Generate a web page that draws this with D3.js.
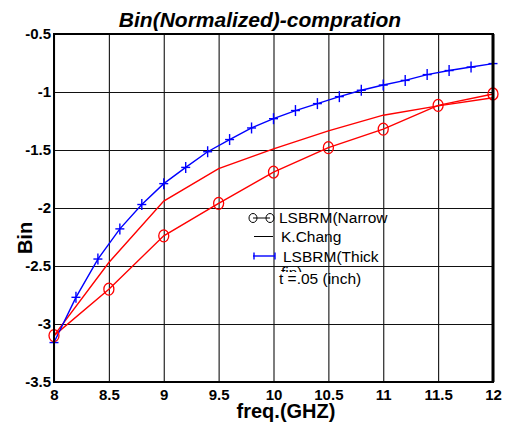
<!DOCTYPE html>
<html>
<head>
<meta charset="utf-8">
<script src="https://cdn.jsdelivr.net/npm/d3@7"></script>
<style>
  html, body { margin: 0; padding: 0; background: #fff; }
  svg { display: block; }
  text { font-family: "Liberation Sans", Arial, sans-serif; }
</style>
</head>
<body>
<script>
// ---- data ----
const freqNarrow = [8, 8.5, 9, 9.5, 10, 10.5, 11, 11.5, 12];
const binNarrow  = [-3.10, -2.70, -2.24, -1.96, -1.69, -1.48, -1.32, -1.115, -1.017];
const binChang   = [-3.10, -2.47, -1.94, -1.66, -1.49, -1.335, -1.20, -1.12, -1.05];
const freqThick  = [8, 8.2, 8.4, 8.6, 8.8, 9, 9.2, 9.4, 9.6, 9.8, 10, 10.2, 10.4, 10.6, 10.8, 11, 11.2, 11.4, 11.6, 11.8, 12];
const binThick   = [-3.16, -2.77, -2.44, -2.18, -1.97, -1.79, -1.65, -1.515, -1.41, -1.31, -1.23, -1.16, -1.10, -1.04, -0.985, -0.94, -0.90, -0.85, -0.815, -0.785, -0.755];
const xTicks = [8, 8.5, 9, 9.5, 10, 10.5, 11, 11.5, 12];
const yTicks = [-3.5, -3, -2.5, -2, -1.5, -1, -0.5];
const legendLabels = ["LSBRM(Narrow", "K.Chang", "LSBRM(Thick", "t =.05 (inch)"];
const legendWrap = "fin)";
const titleText = "Bin(Normalized)-compration";
const xLabel = "freq.(GHZ)";
const yLabel = "Bin";

// ---- layout ----
const W = 508, H = 426;
const L = 54, R = 493, T = 34, B = 382;
const svg = d3.select("body").append("svg").attr("width", W).attr("height", H);

const x = d3.scaleLinear().domain([8, 12]).range([L, R]);
const y = d3.scaleLinear().domain([-3.5, -0.5]).range([B, T]);

// grid
const grid = svg.append("g");
grid.append("g").attr("transform", `translate(0,${B})`)
  .call(d3.axisBottom(x).tickValues(xTicks).tickSize(-(B - T)).tickFormat(""))
  .call(g => g.select(".domain").remove())
  .call(g => g.selectAll("line").attr("stroke", "#111").attr("stroke-width", 1.1));
grid.append("g").attr("transform", `translate(${L},0)`)
  .call(d3.axisLeft(y).tickValues(yTicks).tickSize(-(R - L)).tickFormat(""))
  .call(g => g.select(".domain").remove())
  .call(g => g.selectAll("line").attr("stroke", "#111").attr("stroke-width", 1.1));

// tick labels
const fmt = d => String(d);
svg.append("g").attr("transform", `translate(0,${B})`)
  .call(d3.axisBottom(x).tickValues(xTicks).tickSize(0).tickPadding(7).tickFormat(fmt))
  .call(g => g.select(".domain").remove())
  .call(g => g.selectAll("text").attr("font-family", "Liberation Sans, Arial, sans-serif")
     .attr("font-size", 15).attr("font-weight", "bold").attr("fill", "#000"));
svg.append("g").attr("transform", `translate(${L},0)`)
  .call(d3.axisLeft(y).tickValues(yTicks).tickSize(0).tickPadding(3).tickFormat(fmt))
  .call(g => g.select(".domain").remove())
  .call(g => g.selectAll("text").attr("font-family", "Liberation Sans, Arial, sans-serif")
     .attr("font-size", 15).attr("font-weight", "bold").attr("fill", "#000"));

// lines
const lineNarrow = d3.line().x((d, i) => x(freqNarrow[i])).y(d => y(d));
const lineThick = d3.line().x((d, i) => x(freqThick[i])).y(d => y(d));

svg.append("path").attr("d", lineNarrow(binChang))
  .attr("fill", "none").attr("stroke", "#ff0000").attr("stroke-width", 1.4);
svg.append("path").attr("d", lineNarrow(binNarrow))
  .attr("fill", "none").attr("stroke", "#ff0000").attr("stroke-width", 1.4);
svg.append("path").attr("d", lineThick(binThick))
  .attr("fill", "none").attr("stroke", "#0000ff").attr("stroke-width", 1.4);

// circle markers
svg.append("g").selectAll("ellipse").data(binNarrow).join("ellipse")
  .attr("cx", (d, i) => x(freqNarrow[i])).attr("cy", d => y(d))
  .attr("rx", 5).attr("ry", 6)
  .attr("fill", "none").attr("stroke", "#ff0000").attr("stroke-width", 1.3);

// plus markers
const plusG = svg.append("g").attr("stroke", "#0000ff").attr("stroke-width", 1.4);
binThick.forEach((v, i) => {
  const cx = x(freqThick[i]), cy = y(v);
  plusG.append("line").attr("x1", cx - 4.5).attr("x2", cx + 4.5).attr("y1", cy).attr("y2", cy);
  plusG.append("line").attr("x1", cx).attr("x2", cx).attr("y1", cy - 5.5).attr("y2", cy + 5.5);
});

// frame
svg.append("rect").attr("x", L).attr("y", T).attr("width", R - L).attr("height", B - T)
  .attr("fill", "none").attr("stroke", "#000").attr("stroke-width", 2);
svg.append("line").attr("x1", R).attr("x2", R).attr("y1", T).attr("y2", B)
  .attr("stroke", "#000").attr("stroke-width", 3);

// title & axis labels
svg.append("text").attr("x", 260).attr("y", 27).attr("text-anchor", "middle")
  .attr("font-size", 21).attr("font-weight", "bold").attr("font-style", "italic")
  .text(titleText);
svg.append("text").attr("x", 286).attr("y", 418).attr("text-anchor", "middle")
  .attr("font-size", 20).attr("font-weight", "bold").text(xLabel);
svg.append("text").attr("transform", "translate(32,238) rotate(-90)").attr("text-anchor", "middle")
  .attr("font-size", 20).attr("font-weight", "bold").text(yLabel);

// legend
const lg = svg.append("g");
const defs = svg.append("defs");
defs.append("clipPath").attr("id", "clip4").append("rect")
  .attr("x", 276).attr("y", 265).attr("width", 40).attr("height", 7);

// entry 1
lg.append("line").attr("x1", 253).attr("x2", 270).attr("y1", 218).attr("y2", 218)
  .attr("stroke", "#000").attr("stroke-width", 1);
[253, 270].forEach(cx => lg.append("ellipse").attr("cx", cx).attr("cy", 218)
  .attr("rx", 4).attr("ry", 4.5).attr("fill", "none").attr("stroke", "#000").attr("stroke-width", 1));
lg.append("text").attr("x", 279).attr("y", 223).attr("font-size", 15.5).text(legendLabels[0]);
// entry 2
lg.append("line").attr("x1", 254).attr("x2", 273).attr("y1", 236.5).attr("y2", 236.5)
  .attr("stroke", "#000").attr("stroke-width", 1);
lg.append("text").attr("x", 281).attr("y", 242).attr("font-size", 15.5).text(legendLabels[1]);
// entry 3
lg.append("line").attr("x1", 253).attr("x2", 275).attr("y1", 256).attr("y2", 256)
  .attr("stroke", "#0000ff").attr("stroke-width", 1.4);
[254, 275].forEach(cx => lg.append("line").attr("x1", cx).attr("x2", cx).attr("y1", 252.5).attr("y2", 259.5)
  .attr("stroke", "#0000ff").attr("stroke-width", 1.4));
lg.append("text").attr("x", 283).attr("y", 262).attr("font-size", 15.5).text(legendLabels[2]);
// partially hidden wrap of entry 3
lg.append("text").attr("x", 281).attr("y", 278).attr("font-size", 15.5)
  .attr("clip-path", "url(#clip4)").text(legendWrap);
// entry 4
lg.append("text").attr("x", 279).attr("y", 284).attr("font-size", 15.5).text(legendLabels[3]);
</script>
</body>
</html>
